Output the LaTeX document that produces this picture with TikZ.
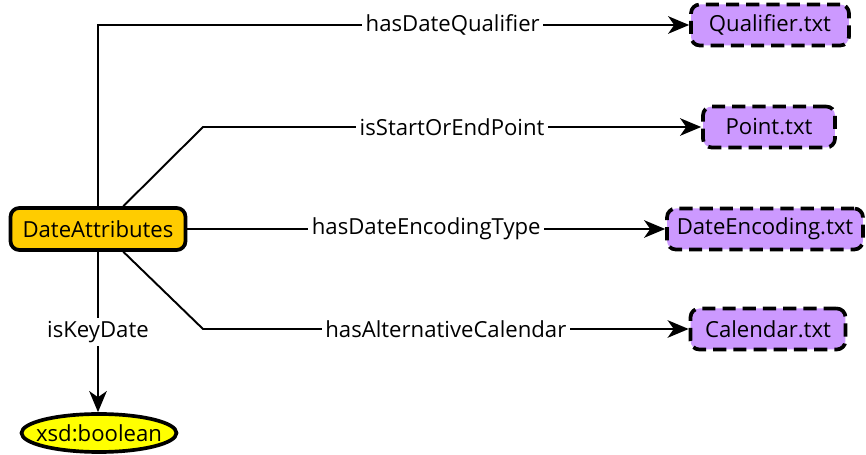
\documentclass[tikz,border=0pt]{standalone}
\usepackage{fontspec}
\setmainfont{Open Sans}
\usepackage{xcolor}
\usetikzlibrary{shapes, arrows.meta, positioning, calc}

\definecolor{attrfill}{HTML}{FFCC00}
\definecolor{filefill}{HTML}{CC99FF}
\definecolor{typefill}{HTML}{FFFF00}

\begin{document}
\begin{tikzpicture}[
            x=0.02cm, y=-0.02cm,
            font=\fontsize{12.6}{15}\selectfont,
            class/.style={rectangle, rounded corners=5pt, draw, line width=2.1pt, fill=attrfill, minimum height=0.84cm, minimum width=3.5cm},
            file/.style={rectangle, rounded corners=5pt, draw, line width=2.1pt, dash pattern=on 7.5pt off 4pt, fill=filefill, minimum height=0.82cm},
            literal/.style={ellipse, draw, line width=2.1pt, fill=typefill, minimum height=0.76cm, minimum width=3.1cm, inner xsep=-0.3cm, inner ysep=0pt},
            link/.style={line width=1.1pt, -{Stealth[length=12pt, width=10pt, inset=3.5pt]}},
            lbl/.style={fill=white, inner sep=2pt}
        ]
        \useasboundingbox (0,0) rectangle (866,455);

        \node[class] (attr) at (98,229) {DateAttributes};
        \node[literal] (bool) at (99,433) {xsd:boolean};

        % Files on the right
        \node[file, minimum width=3.16cm] (qual) at (770,25) {Qualifier.txt};
        \node[file, minimum width=2.64cm] (point) at (769,127) {Point.txt};
        \node[file, minimum width=3.92cm] (enc) at (765,229) {DateEncoding.txt};
        \node[file, minimum width=3.1cm] (cal) at (768,329) {Calendar.txt};

        \coordinate (upbend) at (203,127);
        \coordinate (downbend) at (203,329);

        % Properties
        \draw[link] (attr.north) |- node[lbl, pos=0.8] {hasDateQualifier} (qual.west);
        \draw[link] (attr.42) -- (upbend) -- node[lbl] {isStartOrEndPoint} (point.west);
        \draw[link] (attr.east) -- node[lbl] {hasDateEncodingType} (enc.west);
        \draw[link] (attr.-42) -- (downbend) -- node[lbl] {hasAlternativeCalendar} (cal.west);
        \draw[link] (attr.south) -- node[lbl] {isKeyDate} (attr.south |- bool.north);

    \end{tikzpicture}
\end{document}
